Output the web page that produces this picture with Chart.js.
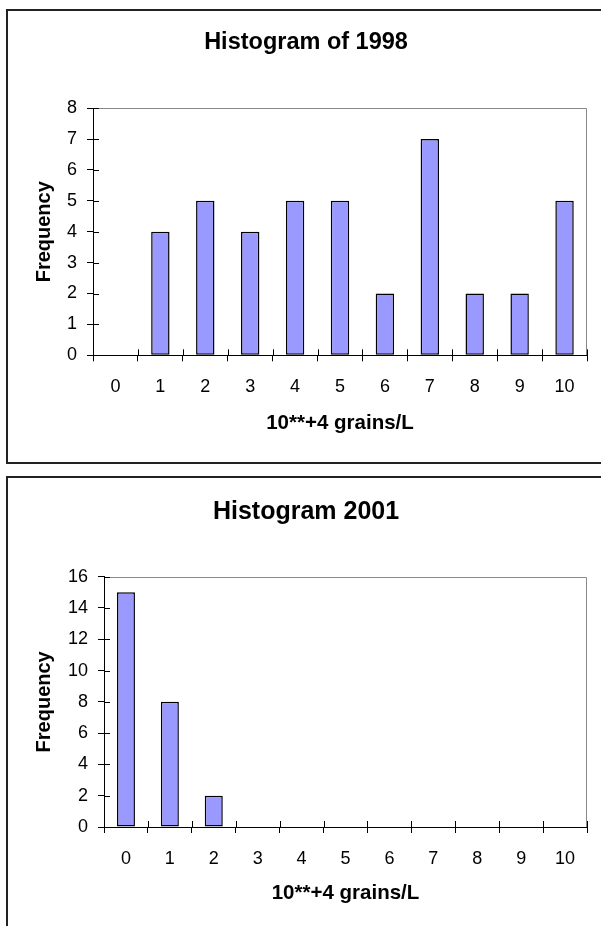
<!DOCTYPE html>
<html lang="en">

<head>
    <meta charset="UTF-8">
    <title>Histograms</title>
    <script src="https://cdn.jsdelivr.net/npm/chart.js@4/dist/chart.umd.min.js"></script>
    <style>
        body {
            margin: 0;
            background: #fff;
            overflow: hidden;
        }
        .box {
            position: absolute;
            left: 6px;
            width: 700px;
            box-sizing: border-box;
            border: 2px solid #222;
        }
        canvas {
            position: absolute;
            left: 0;
        }
    </style>
</head>

<body>
    <div class="box" style="top: 9px; height: 455px;"></div>
    <div class="box" style="top: 476px; height: 600px;"></div>
    <canvas id="hist1998" width="601" height="470" style="top: 0;"></canvas>
    <canvas id="hist2001" width="601" height="456" style="top: 470px;"></canvas>

    <script>
        // values
        const categories = ['0', '1', '2', '3', '4', '5', '6', '7', '8', '9', '10'];
        const freq1998 = [0, 4, 5, 4, 5, 5, 2, 7, 2, 2, 5];
        const freq2001 = [15, 8, 2, 0, 0, 0, 0, 0, 0, 0, 0];
        const ticks1998 = { max: 8, step: 1 };
        const ticks2001 = { max: 16, step: 2 };

        const FONT = '"Liberation Sans", Arial, sans-serif';

        // gray frame on top/right of plot area + tick marks crossing the axes
        const frame = {
            id: 'frame',
            beforeDraw(chart) {
                const ctx = chart.ctx, a = chart.chartArea;
                ctx.save();
                ctx.strokeStyle = '#888';
                ctx.lineWidth = 1;
                ctx.beginPath();
                ctx.moveTo(a.left, Math.round(a.top) + 0.5);
                ctx.lineTo(Math.round(a.right) - 0.5, Math.round(a.top) + 0.5);
                ctx.lineTo(Math.round(a.right) - 0.5, a.bottom);
                ctx.stroke();
                ctx.restore();
            },
            afterDraw(chart) {
                const ctx = chart.ctx, a = chart.chartArea;
                const xs = chart.scales.x, ys = chart.scales.y;
                ctx.save();
                ctx.strokeStyle = '#000';
                ctx.lineWidth = 1;
                ctx.beginPath();
                const n = xs.ticks.length;
                for (let i = 0; i <= n; i++) {
                    const x = Math.round(xs.left + i * xs.width / n) + 0.5;
                    ctx.moveTo(x, a.bottom - 6);
                    ctx.lineTo(x, a.bottom);
                }
                for (let i = 0; i < ys.ticks.length; i++) {
                    const y = Math.round(ys.getPixelForTick(i)) + 0.5;
                    ctx.moveTo(a.left, y);
                    ctx.lineTo(a.left + 6, y);
                }
                ctx.stroke();
                ctx.restore();
            }
        };

        function makeChart(id, title, values, yTicks, geo) {
            return new Chart(document.getElementById(id), {
                type: 'bar',
                data: {
                    labels: categories,
                    datasets: [{
                        data: values,
                        backgroundColor: '#9999FF',
                        borderColor: '#000',
                        borderWidth: 1.5,
                        borderSkipped: false,
                        categoryPercentage: 1,
                        barPercentage: 0.41
                    }]
                },
                options: {
                    responsive: false,
                    animation: false,
                    layout: { padding: { left: 25, right: 14, top: 0, bottom: 0 } },
                    plugins: {
                        legend: { display: false },
                        tooltip: { enabled: false },
                        title: {
                            display: true,
                            text: title,
                            color: '#000',
                            font: { family: FONT, size: geo.titleSize, weight: 'bold' },
                            padding: { top: geo.titleTop, bottom: geo.titleBottom }
                        }
                    },
                    scales: {
                        x: {
                            grid: { offset: true, drawOnChartArea: false, tickLength: 6, color: '#000' },
                            border: { color: '#000', width: 1 },
                            ticks: { color: '#000', padding: 15, font: { family: FONT, size: 18 } },
                            title: {
                                display: true,
                                text: '10**+4 grains/L',
                                color: '#000',
                                font: { family: FONT, size: 20.5, weight: 'bold' },
                                padding: { top: 0, bottom: geo.xTitleBottom }
                            },
                            afterFit(scale) { scale.height = geo.xHeight; }
                        },
                        y: {
                            min: 0,
                            max: yTicks.max,
                            grid: { drawOnChartArea: false, tickLength: 6, color: '#000' },
                            border: { color: '#000', width: 1 },
                            ticks: { stepSize: yTicks.step, color: '#000', padding: 10, font: { family: FONT, size: 18 } },
                            title: {
                                display: true,
                                text: 'Frequency',
                                color: '#000',
                                font: { family: FONT, size: 20, weight: 'bold' },
                                padding: { top: 7, bottom: 0 }
                            },
                            afterFit(scale) { scale.width = geo.yWidth; }
                        }
                    }
                },
                plugins: [frame]
            });
        }

        makeChart('hist1998', 'Histogram of 1998', freq1998, ticks1998,
            { titleSize: 23.5, titleTop: 28, titleBottom: 52, xHeight: 114.7, xTitleBottom: 34.7, yWidth: 68 });
        makeChart('hist2001', 'Histogram 2001', freq2001, ticks2001,
            { titleSize: 25, titleTop: 26.7, titleBottom: 50, xHeight: 99, xTitleBottom: 20.7, yWidth: 79 });
    </script>
</body>

</html>
